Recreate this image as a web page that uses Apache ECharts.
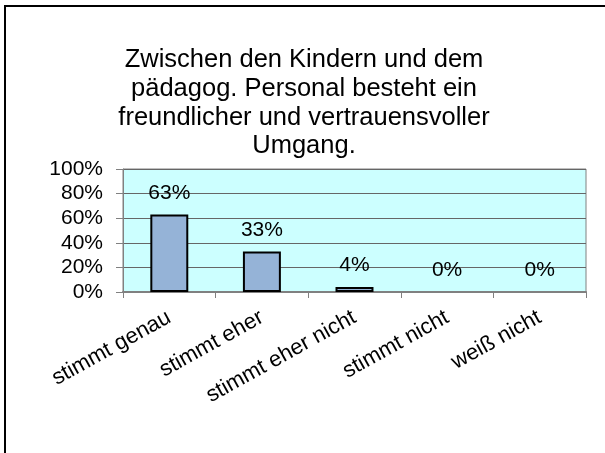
<!DOCTYPE html>
<html>
<head>
<meta charset="utf-8">
<script src="https://cdn.jsdelivr.net/npm/echarts@6/dist/echarts.min.js"></script>
<style>
html,body{margin:0;padding:0;background:#fff;overflow:hidden;}
#frame{position:absolute;left:4px;top:5px;width:700px;height:600px;border-left:2px solid #000;border-top:2px solid #000;}
#chart{position:absolute;left:0;top:0;width:605px;height:453px;}
</style>
</head>
<body>
<div id="frame"></div>
<div id="chart"></div>
<script>
var titleText = 'Zwischen den Kindern und dem\npädagog. Personal besteht ein\nfreundlicher und vertrauensvoller\nUmgang.';
var categories = ['stimmt genau', 'stimmt eher', 'stimmt eher nicht', 'stimmt nicht', 'weiß nicht'];
var values = [63, 33, 4, 0, 0];
var yTicks = [0, 20, 40, 60, 80, 100];

var chart = echarts.init(document.getElementById('chart'), null, {renderer: 'canvas'});
var font = 'Liberation Sans, Arial, sans-serif';
var barData = values.map(function (v) {
  return v === 0 ? {value: v, itemStyle: {borderWidth: 0}} : v;
});
chart.setOption({
  backgroundColor: 'transparent',
  animation: false,
  title: {
    text: titleText,
    left: 299, top: 41, textAlign: 'center',
    textStyle: {fontFamily: font, fontSize: 25.5, fontWeight: 'normal', color: '#000', lineHeight: 28.7}
  },
  grid: {left: 123, right: 19, top: 169, bottom: 161, show: true, backgroundColor: '#CCFFFF', borderColor: '#808080', borderWidth: 1},
  xAxis: {
    type: 'category', data: categories,
    axisLine: {lineStyle: {color: '#808080', width: 2}},
    axisTick: {show: true, length: 6, lineStyle: {color: '#808080'}},
    axisLabel: {rotate: 29, margin: 24, fontFamily: font, fontSize: 22, color: '#000', interval: 0}
  },
  yAxis: {
    type: 'value', min: 0, max: 100, interval: 20,
    axisLine: {show: true, lineStyle: {color: '#808080'}},
    axisTick: {show: true, length: 7, lineStyle: {color: '#808080'}},
    splitLine: {lineStyle: {color: '#666666', width: 1}},
    axisLabel: {margin: 20, fontFamily: font, fontSize: 21, color: '#000',
      formatter: function (v) { return yTicks.indexOf(v) >= 0 ? v + '%' : ''; }}
  },
  series: [{
    type: 'bar', data: barData, barWidth: '41%',
    itemStyle: {color: '#95B3D7', borderColor: '#000', borderWidth: 2},
    label: {show: true, position: 'top', distance: 11, formatter: '{c}%', fontFamily: font, fontSize: 21, color: '#000'}
  }]
});
</script>
</body>
</html>
